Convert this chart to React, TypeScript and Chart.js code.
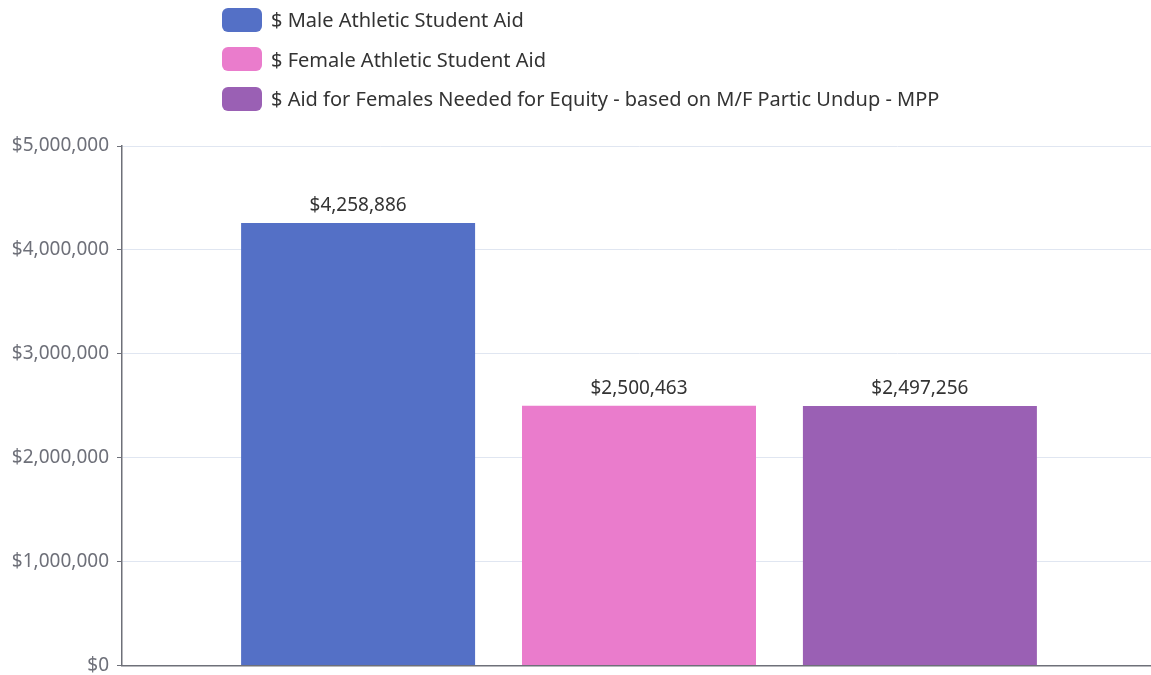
import React, { useEffect, useRef } from "react";
import { Chart, registerables } from "chart.js";

Chart.register(...registerables);

const categories = [""];
const seriesNames = [
  "$ Male Athletic Student Aid",
  "$ Female Athletic Student Aid",
  "$ Aid for Females Needed for Equity - based on M/F Partic Undup - MPP",
];
const seriesValues = [4258886, 2500463, 2497256];
const seriesColors = ["#5470c6", "#ea7ccc", "#9a60b4"];
const yTicks = [0, 1000000, 2000000, 3000000, 4000000, 5000000];

const FONT = "'Noto Sans', 'Open Sans', sans-serif";
const money = (v: number) => "$" + v.toLocaleString("en-US");

const labelPlugin = {
  id: "barLabels",
  afterDatasetsDraw(chart: any) {
    const ctx = chart.ctx;
    ctx.save();
    ctx.font = `19px ${FONT}`;
    ctx.fillStyle = "#333";
    ctx.textAlign = "center";
    ctx.textBaseline = "middle";
    chart.data.datasets.forEach((ds: any, i: number) => {
      const meta = chart.getDatasetMeta(i);
      meta.data.forEach((bar: any, j: number) => {
        ctx.fillText(money(ds.data[j]), bar.x, bar.y - 17);
      });
    });
    ctx.restore();
  },
};

export default function App() {
  const ref = useRef<HTMLCanvasElement>(null);
  useEffect(() => {
    const chart = new Chart(ref.current!, {
      type: "bar",
      data: {
        labels: categories,
        datasets: seriesNames.map((name, i) => ({
          label: name,
          data: [seriesValues[i]],
          backgroundColor: seriesColors[i],
          categoryPercentage: 0.815,
          barPercentage: 0.833,
        })),
      },
      options: {
        responsive: false,
        animation: false,
        layout: { padding: { top: 146, right: 0, bottom: 1, left: 0 } },
        plugins: { legend: { display: false }, tooltip: { enabled: false } },
        scales: {
          x: {
            grid: { display: false },
            ticks: { display: false },
            border: { display: true, color: "#6e7079", width: 1.5 },
          },
          y: {
            min: 0,
            max: 5000000,
            afterFit(scale: any) {
              scale.width = 122;
            },
            afterBuildTicks(scale: any) {
              scale.ticks = yTicks.map((v) => ({ value: v }));
            },
            grid: { color: "#e0e6f1", tickColor: "#6e7079", tickLength: 5 },
            border: { display: true, color: "#6e7079", width: 1.5 },
            ticks: {
              padding: 8,
              color: "#6e7079",
              font: { size: 19, family: FONT },
              callback: (v: any) => money(Number(v)),
            },
          },
        },
      },
      plugins: [labelPlugin],
    });
    return () => chart.destroy();
  }, []);

  return (
    <div style={{ position: "fixed", left: 0, top: 0, width: 1151, height: 675, background: "#fff", overflow: "hidden" }}>
      <canvas ref={ref} width={1156} height={685} style={{ position: "absolute", left: 0, top: 0 }} />
      <div style={{ position: "absolute", left: 222, top: 0, fontFamily: FONT, fontSize: 20, color: "#333" }}>
        {seriesNames.map((name, i) => (
          <div key={name} style={{ display: "flex", alignItems: "center", height: 39.5 }}>
            <span
              style={{
                display: "inline-block",
                width: 40,
                height: 24,
                borderRadius: 6,
                background: seriesColors[i],
                marginRight: 9,
              }}
            />
            <span>{name}</span>
          </div>
        ))}
      </div>
    </div>
  );
}
